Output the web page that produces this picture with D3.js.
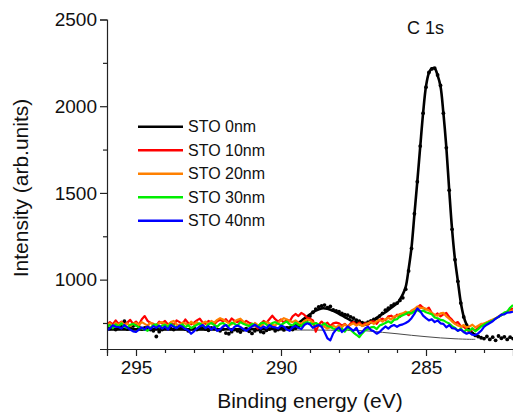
<!DOCTYPE html>
<html>
<head>
<meta charset="utf-8">
<script src="https://cdn.jsdelivr.net/npm/d3@7"></script>
<style>
  html, body { margin: 0; padding: 0; background: #fff; }
  svg { display: block; font-family: "Liberation Sans", Arial, sans-serif; }
</style>
</head>
<body>
<svg id="chart" width="513" height="415"></svg>
<script>
// ---- data (binding energy grid: 296 -> 282 eV, step 0.1 eV) ----
const energyStart = 296, energyStep = 0.1, nPoints = 141;

const sto0 = [
  725, 718, 730, 712, 722, 735, 760, 715, 720, 732,
  740, 728, 715, 722, 730, 712, 705, 672, 700, 712,
  722, 730, 718, 712, 725, 720, 728, 715, 705, 718,
  725, 712, 720, 730, 715, 708, 722, 718, 712, 705,
  715, 692, 688, 700, 712, 705, 698, 710, 718, 702,
  690, 705, 712, 700, 695, 708, 715, 720, 705, 712,
  718, 710, 722, 715, 712, 720, 728, 738, 752, 770,
  790, 812, 830, 843, 848, 853, 838, 845, 825, 820,
  815, 805, 798, 795, 785, 778, 766, 760, 752, 747,
  755, 762, 770, 777, 790, 805, 824, 835, 848, 858,
  864, 880, 895, 945, 1050, 1180, 1380, 1565, 1770, 1960,
  2110, 2195, 2215, 2220, 2180, 2120, 1960, 1760, 1516, 1290,
  1115, 990, 865, 785, 738, 705, 690, 678, 672, 665,
  660, 672, 655, 668, 650, 675, 662, 670, 655, 668, 660
];
const sto10 = [
  740, 755, 742, 765, 745, 758, 738, 752, 768, 745,
  758, 740, 772, 790, 762, 750, 745, 735, 758, 748,
  762, 742, 752, 738, 765, 755, 745, 770, 750, 742,
  752, 765, 775, 752, 745, 762, 750, 742, 760, 768,
  760, 772, 752, 776, 762, 755, 768, 750, 762, 752,
  745, 735, 718, 745, 762, 752, 772, 792, 772, 758,
  770, 752, 768, 760, 788, 802, 790, 808, 798, 780,
  775, 765, 700, 740, 758, 740, 752, 732, 748, 752,
  748, 735, 745, 728, 748, 755, 738, 752, 735, 748,
  740, 758, 760, 745, 768, 775, 765, 788, 792, 780,
  798, 785, 802, 808, 795, 815, 815, 838, 853, 838,
  828, 838, 808, 792, 805, 788, 800, 808, 785, 768,
  748, 755, 732, 728, 712, 700, 715, 708, 722, 738,
  745, 750, 762, 766, 775, 785, 798, 805, 815, 824, 835
];
const sto20 = [
  738, 748, 732, 750, 738, 755, 735, 748, 732, 745,
  750, 738, 755, 745, 735, 752, 740, 732, 750, 755,
  745, 735, 755, 762, 742, 738, 752, 748, 735, 758,
  742, 755, 738, 750, 758, 742, 762, 752, 768, 778,
  770, 760, 748, 742, 760, 768, 775, 758, 745, 740,
  732, 750, 738, 728, 748, 755, 748, 740, 735, 752,
  765, 778, 770, 762, 755, 765, 752, 745, 762, 770,
  766, 752, 748, 740, 732, 728, 718, 725, 735, 725,
  738, 725, 742, 730, 740, 748, 735, 745, 732, 740,
  748, 755, 745, 760, 768, 758, 772, 780, 770, 788,
  790, 802, 805, 815, 805, 822, 830, 845, 836, 838,
  830, 822, 808, 798, 792, 805, 808, 788, 775, 758,
  745, 735, 728, 738, 725, 730, 740, 725, 735, 745,
  747, 755, 760, 770, 777, 788, 795, 808, 815, 818, 822
];
const sto30 = [
  728, 738, 720, 742, 730, 748, 728, 722, 740, 745,
  735, 725, 718, 712, 705, 722, 738, 742, 725, 735,
  740, 728, 745, 735, 722, 732, 742, 725, 738, 720,
  730, 740, 748, 735, 725, 742, 750, 738, 728, 745,
  750, 738, 732, 752, 745, 735, 755, 745, 738, 732,
  745, 738, 728, 748, 752, 740, 732, 750, 755, 745,
  738, 750, 758, 742, 735, 752, 740, 732, 750, 755,
  750, 742, 750, 740, 735, 748, 732, 728, 718, 712,
  705, 718, 700, 722, 710, 695, 682, 668, 690, 708,
  715, 725, 728, 715, 735, 742, 750, 760, 750, 768,
  772, 788, 795, 802, 812, 805, 818, 824, 815, 822,
  812, 806, 800, 782, 777, 768, 765, 755, 747, 732,
  722, 705, 718, 698, 712, 705, 720, 702, 715, 730,
  740, 750, 757, 765, 775, 785, 795, 810, 815, 838, 853
];
const sto40 = [
  708, 720, 737, 728, 727, 718, 738, 725, 712, 702,
  698, 712, 725, 712, 730, 715, 732, 722, 735, 718,
  730, 712, 738, 728, 720, 735, 728, 715, 708, 688,
  702, 718, 730, 738, 720, 732, 712, 728, 705, 712,
  730, 738, 720, 708, 728, 735, 727, 715, 705, 718,
  730, 740, 728, 718, 730, 720, 738, 728, 725, 718,
  735, 728, 712, 705, 725, 732, 722, 715, 738, 748,
  742, 722, 732, 738, 728, 698, 662, 650, 690, 712,
  725, 698, 712, 730, 718, 705, 722, 688, 698, 718,
  728, 710, 702, 688, 698, 715, 730, 718, 732, 738,
  728, 738, 742, 750, 760, 778, 802, 834, 818, 792,
  778, 765, 772, 755, 765, 748, 745, 725, 738, 720,
  718, 705, 712, 698, 688, 695, 682, 680, 690, 705,
  728, 740, 750, 760, 775, 785, 798, 800, 810, 811, 815
];

// fit envelope for STO 0nm
const fitEnergy = [296, 295, 294, 293, 292, 291, 290, 289.6, 289.4, 289.2, 289.0, 288.8, 288.6, 288.4, 288.2, 288.0,
  287.8, 287.6, 287.4, 287.2, 287.0, 286.8, 286.6, 286.4, 286.2, 286.0, 285.9, 285.8, 285.7, 285.6, 285.5,
  285.4, 285.3, 285.2, 285.1, 285.0, 284.9, 284.8, 284.7, 284.6, 284.5, 284.4, 284.3, 284.2, 284.1, 284.0,
  283.9, 283.8, 283.7, 283.6, 283.5, 283.4, 283.3];
const fitValue = [713, 713, 713, 713, 714, 715, 720, 728, 748, 775, 800, 822, 834, 832, 820, 803,
  784, 765, 750, 738, 745, 765, 792, 812, 838, 863, 885, 915, 958, 1060, 1185,
  1375, 1565, 1765, 1960, 2115, 2192, 2218, 2218, 2178, 2115, 1960, 1765, 1518, 1288, 1115,
  990, 868, 787, 740, 708, 692, 682];

// background (baseline) for STO 0nm
const bgEnergy = [296, 291, 288, 287, 286.5, 286, 285.5, 285, 284.5, 284, 283.5, 283.3];
const bgValue  = [712, 710, 708, 704, 696, 688, 679, 671, 664, 659, 656, 656];

const seriesNames  = ["STO 0nm", "STO 10nm", "STO 20nm", "STO 30nm", "STO 40nm"];
const seriesColors = ["#000000", "#ff0000", "#ff8000", "#00ee00", "#0000ff"];

const xMajorTicks = [295, 290, 285];
const xMinorTicks = [296, 294, 293, 292, 291, 289, 288, 287, 286, 284, 283];
const yMajorTicks = [1000, 1500, 2000, 2500];
const yMinorTicks = [750, 1250, 1750, 2250];

const xTitle = "Binding energy (eV)";
const yTitle = "Intensity (arb.units)";
const panelLabel = "C 1s";

// ---- drawing ----
const svg = d3.select("#chart");
const mLeft = 107, mRight = 513, mTop = 19.5, mBottom = 349;

const x = d3.scaleLinear().domain([296, 282]).range([mLeft, mRight]);
const y = d3.scaleLinear().domain([600, 2500]).range([mBottom, mTop]);

const energies = d3.range(nPoints).map(i => +(energyStart - energyStep * i).toFixed(1));

svg.append("defs").append("clipPath").attr("id", "clip")
  .append("rect").attr("x", mLeft).attr("y", 0).attr("width", mRight - mLeft).attr("height", mBottom);

const plot = svg.append("g").attr("clip-path", "url(#clip)");

const lineXY = d3.line().x(d => x(d[0])).y(d => y(d[1]));
const smooth = d3.line().x(d => x(d[0])).y(d => y(d[1])).curve(d3.curveCatmullRom.alpha(0.5));

// baseline
plot.append("path")
  .datum(bgEnergy.map((e, i) => [e, bgValue[i]]))
  .attr("d", smooth).attr("fill", "none").attr("stroke", "#4a4a4a").attr("stroke-width", 1);

// fit line
plot.append("path")
  .datum(fitEnergy.map((e, i) => [e, fitValue[i]]))
  .attr("d", smooth).attr("fill", "none").attr("stroke", "#000").attr("stroke-width", 2.6)
  .attr("stroke-linejoin", "round");

// STO 0nm data points
plot.append("g").selectAll("circle")
  .data(sto0.map((v, i) => [energies[i], v]))
  .join("circle")
  .attr("cx", d => x(d[0])).attr("cy", d => y(d[1])).attr("r", 1.9).attr("fill", "#000");

// colored spectra
[sto10, sto20, sto30, sto40].forEach((arr, k) => {
  plot.append("path")
    .datum(arr.map((v, i) => [energies[i], v]))
    .attr("d", lineXY).attr("fill", "none")
    .attr("stroke", seriesColors[k + 1]).attr("stroke-width", 2.2)
    .attr("stroke-linejoin", "round");
});

// axes
const axisColor = "#222";
const gx = svg.append("g").attr("transform", `translate(0,${mBottom})`);
gx.call(d3.axisBottom(x).tickValues(xMajorTicks).tickSize(7).tickFormat(d3.format("d")));
const gxMinor = gx.append("g").call(d3.axisBottom(x).tickValues(xMinorTicks).tickSize(4).tickFormat(""));
gxMinor.select(".domain").remove();
gx.selectAll(".domain").attr("stroke", axisColor).attr("stroke-width", 1.2);
gx.selectAll(".tick line").attr("stroke", axisColor).attr("stroke-width", 1.2);
gx.selectAll(".tick text").attr("y", 25).attr("dy", 0)
  .attr("font-size", 19).attr("fill", "#111").attr("font-family", "Liberation Sans, Arial, sans-serif");

const gy = svg.append("g").attr("transform", `translate(${mLeft},0)`);
gy.call(d3.axisLeft(y).tickValues(yMajorTicks).tickSize(7).tickPadding(3).tickFormat(d3.format("d")));
const gyMinor = gy.append("g").call(d3.axisLeft(y).tickValues(yMinorTicks).tickSize(4).tickFormat(""));
gyMinor.select(".domain").remove();
gy.selectAll(".domain").attr("stroke", axisColor).attr("stroke-width", 1.2);
gy.selectAll(".tick line").attr("stroke", axisColor).attr("stroke-width", 1.2);
gy.selectAll(".tick text").attr("font-size", 19).attr("fill", "#111")
  .attr("font-family", "Liberation Sans, Arial, sans-serif");

// axis titles
svg.append("text").attr("x", (mLeft + mRight) / 2).attr("y", 408)
  .attr("text-anchor", "middle").attr("font-size", 21).attr("fill", "#111").text(xTitle);
svg.append("text").attr("transform", "translate(28,188) rotate(-90)")
  .attr("text-anchor", "middle").attr("font-size", 21).attr("fill", "#111").text(yTitle);

// panel label
svg.append("text").attr("x", 407).attr("y", 34).attr("font-size", 18).attr("fill", "#111")
  .text(panelLabel);

// legend
const legend = svg.append("g");
seriesNames.forEach((name, i) => {
  const ly = 126.7 + i * 23.5;
  legend.append("line").attr("x1", 138).attr("x2", 183).attr("y1", ly).attr("y2", ly)
    .attr("stroke", seriesColors[i]).attr("stroke-width", 2.6);
  legend.append("text").attr("x", 188).attr("y", ly).attr("dy", "0.36em")
    .attr("font-size", 16).attr("fill", "#111").text(name);
});
</script>
</body>
</html>
